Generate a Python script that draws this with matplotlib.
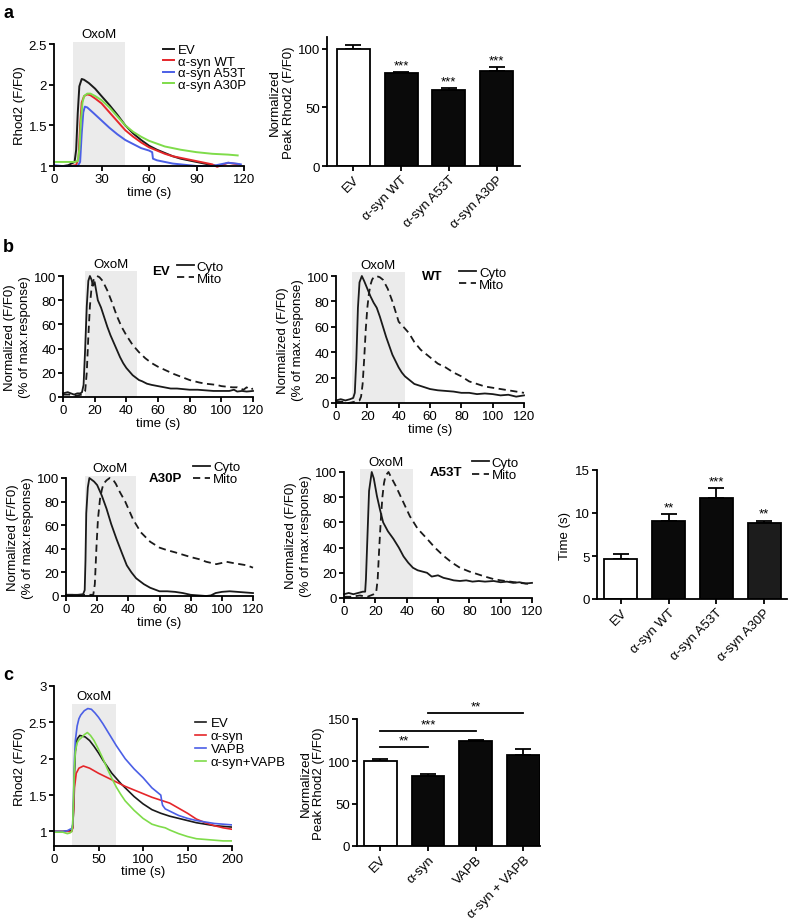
import matplotlib
matplotlib.use("Agg")
import matplotlib.pyplot as plt
import numpy as np

plt.rcParams['font.family'] = ['Liberation Sans', 'DejaVu Sans']
plt.rcParams['font.size'] = 9

# ---------------- data ----------------
# panel a, traces
a_ev_t = [0, 6, 9, 11, 13, 14, 15, 16, 17.5, 19, 22, 26, 30, 35, 40, 45, 50, 55, 60, 65, 70, 75, 80, 85, 90, 95, 100, 103]
a_ev_y = [1.0, 1.0, 1.01, 1.03, 1.05, 1.2, 1.65, 1.98, 2.07, 2.06, 2.02, 1.95, 1.86, 1.75, 1.63, 1.5, 1.4, 1.32, 1.25, 1.2, 1.16, 1.12, 1.09, 1.07, 1.05, 1.03, 1.01, 1.0]
a_wt_t = [0, 5, 10, 14, 15.5, 16.5, 17.5, 19, 21, 23, 26, 30, 35, 40, 45, 50, 55, 60, 65, 70, 75, 80, 85, 90, 95, 100, 103, 106, 110, 113, 117]
a_wt_y = [1.0, 1.0, 1.0, 1.01, 1.1, 1.5, 1.78, 1.86, 1.88, 1.87, 1.83, 1.77, 1.66, 1.55, 1.44, 1.36, 1.29, 1.23, 1.19, 1.15, 1.12, 1.1, 1.08, 1.06, 1.04, 1.02, 0.99, 1.01, 1.04, 1.03, 1.02]
a_a53t_t = [0, 5, 10, 15, 16.5, 17.5, 18.5, 19.5, 21, 25, 30, 35, 40, 45, 50, 55, 60, 62, 62.5, 65, 70, 75, 80, 85, 90, 95, 100, 105, 110, 115, 118]
a_a53t_y = [1.01, 1.0, 1.0, 1.0, 1.05, 1.4, 1.66, 1.73, 1.72, 1.65, 1.56, 1.47, 1.39, 1.32, 1.27, 1.22, 1.19, 1.17, 1.09, 1.07, 1.05, 1.03, 1.02, 1.01, 1.0, 1.0, 1.0, 1.02, 1.04, 1.03, 1.02]
a_a30p_t = [0, 5, 10, 13, 15, 16, 17, 18, 19, 21, 23, 26, 30, 35, 40, 45, 50, 55, 60, 70, 80, 90, 100, 110, 116]
a_a30p_y = [1.05, 1.05, 1.05, 1.05, 1.06, 1.2, 1.55, 1.78, 1.86, 1.89, 1.89, 1.86, 1.81, 1.72, 1.61, 1.5, 1.42, 1.36, 1.31, 1.24, 1.2, 1.17, 1.15, 1.14, 1.13]

# panel a, bars
bar_labels_a = ['EV', 'α-syn WT', 'α-syn A53T', 'α-syn A30P']
peak_a = [100, 79, 65, 81]
peak_a_err = [3, 1.5, 1.5, 3]
stars_a = ['', '***', '***', '***']

# panel b, normalized traces
ev_cyto_t = [0, 3, 5, 7, 9, 11, 12, 13, 14, 15, 16, 17, 18, 19, 20, 22, 24, 26, 28, 30, 32, 34, 36, 38, 40, 42, 44, 46, 48, 50, 53, 56, 60, 64, 68, 72, 76, 80, 85, 90, 95, 100, 105, 108, 110, 113, 116, 120]
ev_cyto_y = [3, 4, 3, 2, 3, 3, 4, 10, 40, 75, 96, 100, 97, 92, 95, 80, 74, 66, 58, 51, 45, 39, 33, 28, 24, 21, 18, 16, 14, 13, 11, 10, 9, 8, 7, 7, 6.5, 6, 6, 5.5, 5, 5, 5, 6, 4.5, 5, 4.5, 5]
ev_mito_t = [0, 4, 8, 12, 14, 15, 16, 17, 18, 19, 20, 21.5, 23, 25, 28, 31, 34, 37, 40, 44, 48, 52, 56, 60, 65, 70, 76, 80, 86, 90, 97, 100, 107, 110, 114, 116, 118, 120]
ev_mito_y = [2, 2, 1, 2, 5, 20, 50, 75, 90, 96, 98, 100, 99, 96, 88, 78, 67, 58, 51, 43, 37, 32, 28, 25, 22, 19, 16, 14, 12, 11, 10, 9, 8, 8, 6, 8, 6, 7]

wt_cyto_t = [0, 3, 6, 9, 11, 12, 13, 14, 15, 16.5, 18, 20, 22, 24, 26, 28, 30, 32, 34, 36, 38, 40, 42, 44, 47, 50, 55, 60, 65, 70, 75, 80, 85, 90, 95, 100, 105, 110, 115, 120]
wt_cyto_y = [2, 3, 2, 3, 4, 8, 35, 75, 95, 100, 96, 90, 84, 79, 75, 68, 60, 52, 45, 38, 33, 28, 24, 21, 18, 15, 13, 11, 10, 9.5, 9, 8, 8, 7, 7.5, 7, 6, 6.5, 5, 6]
wt_mito_t = [0, 4, 8, 12, 15, 16, 17, 18, 19, 20, 21, 22, 23, 24, 25.7, 28, 30, 33, 36, 38, 40, 43, 46.6, 50, 54, 60, 65, 70, 75, 80, 85, 90, 95, 100, 105, 110, 115, 120]
wt_mito_y = [1, 1, 0, 1, 2, 5, 15, 35, 58, 75, 86, 93, 97, 99, 100, 99, 97, 90, 80, 72, 64, 60, 55, 48, 42, 36, 31, 28, 24, 21, 17, 15, 13, 12, 11, 10, 9, 8]

a30p_cyto_t = [0, 4, 8, 11, 12, 12.5, 13, 14, 15, 16, 18, 20, 23, 26, 29, 32.5, 36, 39, 42, 45, 50, 54, 60, 65, 70, 75, 80, 85, 90, 93, 96, 100, 105, 110, 115, 120]
a30p_cyto_y = [1, 1, 1, 1.5, 5, 30, 70, 92, 100, 99, 97, 94, 85, 74, 61, 48, 36, 26, 20, 15, 10, 7, 4, 4, 3.5, 2.5, 1, 0.5, 0, 0.5, 2.5, 3.5, 4, 3.5, 3, 2.5]
a30p_mito_t = [0, 5, 10, 15, 17.5, 18.5, 19.6, 20.5, 21.8, 23, 24, 26, 28, 30, 32, 34.6, 38, 43, 48, 54, 60, 64.5, 70, 75, 80, 86, 90, 96.5, 100, 103, 107, 111.5, 116, 120]
a30p_mito_y = [1, 1, 1, 1, 1, 10, 43, 65, 82, 90, 95, 98, 100, 99, 95, 88, 80, 65, 54, 46, 41, 39, 37, 35, 33, 31, 29, 27, 28, 29, 28, 27, 26, 24]

a53t_cyto_t = [0, 3, 6, 9, 12, 13.5, 14, 15, 16, 17.7, 19, 21, 23, 25, 28, 31.5, 35, 38, 41, 44, 47, 50, 53, 56, 60, 63.5, 67, 70, 74, 78, 82, 86, 90, 95.5, 100, 104, 108, 112, 116, 120]
a53t_cyto_y = [3, 4, 3, 4, 5, 5, 15, 50, 85, 100, 95, 81, 70, 60, 53, 47, 40, 33, 28, 24, 22, 21, 20, 17, 18, 16, 15, 14, 13.5, 14, 13, 13.5, 13, 13.5, 12.5, 13, 12, 12.5, 11.5, 12]
a53t_mito_t = [0, 5, 10, 15, 19, 20.5, 21.5, 22.5, 23.5, 24.5, 25.5, 26.5, 28.4, 30, 33, 36, 42, 47, 53, 58, 63.5, 69, 74, 80, 85, 90, 95.5, 100, 106, 112, 120]
a53t_mito_y = [1, 1, 2, 1, 3, 4, 15, 40, 62, 80, 91, 97, 100, 96, 89, 81, 65, 55, 47, 40, 33.5, 28, 24, 21, 19, 17, 15, 14, 13, 12, 11]

# panel b, bars
bar_labels_b = ['EV', 'α-syn WT', 'α-syn A53T', 'α-syn A30P']
delay_b = [4.7, 9.1, 11.8, 8.8]
delay_b_err = [0.5, 0.8, 1.1, 0.3]
stars_b = ['', '**', '***', '**']

# panel c, traces
c_ev_t = [0, 10, 18, 20, 21, 22, 23, 24, 26, 29, 35, 40, 45, 50, 55, 60, 65, 70, 75, 80, 90, 100, 110, 120, 130, 140, 150, 160, 170, 180, 190, 200]
c_ev_y = [1.0, 1.0, 1.01, 1.02, 1.05, 1.3, 1.8, 2.1, 2.27, 2.32, 2.3, 2.25, 2.17, 2.08, 1.98, 1.89, 1.8, 1.73, 1.66, 1.6, 1.48, 1.38, 1.3, 1.25, 1.21, 1.18, 1.15, 1.12, 1.1, 1.08, 1.07, 1.06]
c_asyn_t = [0, 10, 18, 20, 21, 22, 23, 25, 28, 33, 40, 50, 60, 70, 80, 90, 100, 110, 120, 130, 140, 150, 160, 170, 180, 190, 200]
c_asyn_y = [1.0, 1.0, 1.0, 1.0, 1.05, 1.3, 1.6, 1.8, 1.87, 1.9, 1.87, 1.8, 1.74, 1.68, 1.62, 1.57, 1.52, 1.47, 1.43, 1.39, 1.32, 1.25, 1.17, 1.12, 1.08, 1.05, 1.03]
c_vapb_t = [0, 10, 15, 18, 20, 21, 22, 23, 24, 26, 28, 30, 34, 38, 42, 46, 50, 55, 60, 65, 70, 75, 80, 90, 100, 110, 118, 120, 121, 122, 125, 130, 140, 150, 160, 170, 180, 190, 200]
c_vapb_y = [1.0, 1.0, 1.01, 1.03, 1.04, 1.1, 1.5, 2.0, 2.25, 2.45, 2.55, 2.6, 2.66, 2.69, 2.68, 2.63, 2.57, 2.48, 2.38, 2.28, 2.18, 2.09, 2.0, 1.86, 1.74, 1.6, 1.52, 1.5, 1.42, 1.36, 1.31, 1.28, 1.22, 1.18, 1.15, 1.13, 1.11, 1.1, 1.09]
c_both_t = [0, 10, 15, 18, 20, 21, 22, 23, 24, 26, 28, 30, 34, 37.5, 41, 45, 50, 55, 60, 65, 70, 75, 80, 90, 100, 110, 118, 125, 130, 140, 150, 160, 170, 180, 190, 200]
c_both_y = [0.99, 0.99, 0.97, 0.98, 1.0, 1.1, 1.5, 1.9, 2.1, 2.22, 2.26, 2.28, 2.33, 2.36, 2.32, 2.25, 2.13, 2.0, 1.86, 1.73, 1.61, 1.51, 1.42, 1.29, 1.18, 1.1, 1.07, 1.05, 1.02, 0.97, 0.93, 0.9, 0.89, 0.88, 0.87, 0.87]

# panel c, bars
bar_labels_c = ['EV', 'α-syn', 'VAPB', 'α-syn + VAPB']
peak_c = [100, 83, 124, 108]
peak_c_err = [2.5, 2.5, 1, 7]
# comparisons: (bar i, bar j, height, label)
sig_c = [(0, 1, 117, '**'), (0, 2, 136, '***'), (1, 3, 157, '**')]

# ---------------- figure ----------------
W, H = 798, 920
fig = plt.figure(figsize=(W / 100, H / 100), dpi=100)

BLACK = '#1a1a1a'
RED = '#e5262a'
BLUE = '#4b5fe6'
GREEN = '#7fdc4a'
SHADE = '#ebebeb'
FS = 9.5


def axes_px(left, bottom, width, height):
    return fig.add_axes([left / W, 1 - bottom / H, width / W, height / H])


def style(ax):
    for s in ['top', 'right']:
        ax.spines[s].set_visible(False)
    for s in ['left', 'bottom']:
        ax.spines[s].set_linewidth(1.3)
    ax.tick_params(width=1.3, length=3.5, labelsize=FS, pad=1.5)


def fig_text(x, y, s, **kw):
    fig.text(x / W, 1 - y / H, s, **kw)


def oxom(ax, t0, t1, ytop_frac):
    ax.axvspan(t0, t1, ymin=0, ymax=ytop_frac, color=SHADE, lw=0, zorder=0, clip_on=False)


def trace_panel(ax, cyto_t, cyto_y, mito_t, mito_y, t0, t1, top, name, name_xy, leg_xy):
    style(ax)
    oxom(ax, t0, t1, top)
    ax.plot(cyto_t, cyto_y, color=BLACK, lw=1.3, label='Cyto', clip_on=False)
    ax.plot(mito_t, mito_y, color=BLACK, lw=1.3, ls=(0, (4, 2.5)), label='Mito', clip_on=False)
    ax.set_xlim(0, 120)
    ax.set_ylim(0, 100)
    ax.set_xticks([0, 20, 40, 60, 80, 100, 120])
    ax.set_yticks([0, 20, 40, 60, 80, 100])
    ax.set_ylabel('Normalized (F/F0)\n(% of max.response)', fontsize=FS, labelpad=2, linespacing=1.3)
    ax.text((t0 + t1) / 2, 100 * top + 1, 'OxoM', ha='center', va='bottom', fontsize=FS)
    ax.text(name_xy[0], name_xy[1], name, transform=ax.transAxes, ha='right', va='center',
            fontsize=FS, fontweight='bold')
    ax.legend(loc='upper left', bbox_to_anchor=leg_xy, frameon=False, fontsize=FS,
              handlelength=1.3, handletextpad=0.2, labelspacing=0.0, borderpad=0, borderaxespad=0)


def bar_panel(ax, labels, vals, errs, color='#0a0a0a'):
    style(ax)
    x = np.arange(len(vals))
    colors = ['white'] + [color] * (len(vals) - 1)
    ax.bar(x, vals, width=0.69, color=colors, edgecolor='black', linewidth=1.3, zorder=2)
    ax.errorbar(x, vals, yerr=[np.zeros(len(vals)), errs], fmt='none', ecolor='black',
                elinewidth=1.3, capsize=6, capthick=1.3, zorder=1)
    ax.set_xticks(x)
    ax.set_xticklabels(labels, rotation=45, ha='right', rotation_mode='anchor', fontsize=FS)
    return x


# ---- panel a left ----
ax = axes_px(54, 167, 190, 122)
style(ax)
oxom(ax, 12, 45, 1.02)
ax.plot(a_ev_t, a_ev_y, color=BLACK, lw=1.4, label='EV', clip_on=False)
ax.plot(a_wt_t, a_wt_y, color=RED, lw=1.4, label='α-syn WT', clip_on=False)
ax.plot(a_a53t_t, a_a53t_y, color=BLUE, lw=1.4, label='α-syn A53T', clip_on=False)
ax.plot(a_a30p_t, a_a30p_y, color=GREEN, lw=1.4, label='α-syn A30P', clip_on=False)
ax.set_xlim(0, 120)
ax.set_ylim(1, 2.5)
ax.set_xticks([0, 30, 60, 90, 120])
ax.set_yticks([1, 1.5, 2, 2.5])
ax.set_yticklabels(['1', '1.5', '2', '2.5'])
ax.set_xlabel('time (s)', fontsize=FS, labelpad=1)
ax.set_ylabel('Rhod2 (F/F0)', fontsize=FS, labelpad=2)
ax.text(28.5, 2.55, 'OxoM', ha='center', va='bottom', fontsize=FS)
ax.legend(loc='upper left', bbox_to_anchor=(0.575, 1.0), frameon=False, fontsize=FS,
          handlelength=0.8, handletextpad=0.3, labelspacing=-0.05, borderpad=0, borderaxespad=0)

# ---- panel a right ----
ax = axes_px(327, 167, 193, 129)
x = bar_panel(ax, bar_labels_a, peak_a, peak_a_err)
ax.set_xlim(-0.55, 3.49)
ax.set_ylim(0, 110)
ax.set_yticks([0, 50, 100])
ax.set_ylabel('Normalized\nPeak Rhod2 (F/F0)', fontsize=FS, labelpad=2, linespacing=1.2)
for xi, v, e, s in zip(x, peak_a, peak_a_err, stars_a):
    ax.text(xi, v + e + 0.5, s, ha='center', va='bottom', fontsize=9.5)

# ---- panel b traces ----
ax = axes_px(63, 398, 190, 121)
trace_panel(ax, ev_cyto_t, ev_cyto_y, ev_mito_t, ev_mito_y, 14, 47, 1.04,
            'EV', (0.563, 1.04), (0.6, 1.13))
ax.set_xlabel('time (s)', fontsize=FS, labelpad=1)

ax = axes_px(336, 404, 188, 127)
trace_panel(ax, wt_cyto_t, wt_cyto_y, wt_mito_t, wt_mito_y, 10, 44, 1.03,
            'WT', (0.564, 1.0), (0.655, 1.076))
ax.set_xlabel('time (s)', fontsize=FS, labelpad=1)

ax = axes_px(66, 597, 187, 118)
trace_panel(ax, a30p_cyto_t, a30p_cyto_y, a30p_mito_t, a30p_mito_y, 12, 45, 1.02,
            'A30P', (0.62, 1.0), (0.68, 1.145))
ax.set_xlabel('time (s)', fontsize=FS, labelpad=1)

ax = axes_px(344, 599, 188, 126)
trace_panel(ax, a53t_cyto_t, a53t_cyto_y, a53t_mito_t, a53t_mito_y, 10, 44, 1.02,
            'A53T', (0.628, 1.0), (0.68, 1.12))

# ---- panel b bars ----
ax = axes_px(597, 600, 190, 129)
x = bar_panel(ax, bar_labels_b, delay_b, delay_b_err)
ax.patches[-1].set_facecolor('#1c1c1c')
ax.set_xlim(-0.5, 3.48)
ax.set_ylim(0, 15)
ax.set_yticks([0, 5, 10, 15])
ax.set_ylabel('Time (s)', fontsize=FS, labelpad=3)
for xi, v, e, s in zip(x, delay_b, delay_b_err, stars_b):
    ax.text(xi, v + e + 0.1, s, ha='center', va='bottom', fontsize=9.5)

# ---- panel c left ----
ax = axes_px(54, 847, 178, 160)
style(ax)
ax.axvspan(20, 70, ymin=0, ymax=(2.75 - 0.8) / 2.2, color=SHADE, lw=0, zorder=0)
ax.plot(c_ev_t, c_ev_y, color=BLACK, lw=1.2, label='EV')
ax.plot(c_asyn_t, c_asyn_y, color=RED, lw=1.2, label='α-syn')
ax.plot(c_vapb_t, c_vapb_y, color=BLUE, lw=1.2, label='VAPB')
ax.plot(c_both_t, c_both_y, color=GREEN, lw=1.2, label='α-syn+VAPB')
ax.set_xlim(0, 200)
ax.set_ylim(0.8, 3)
ax.set_xticks([0, 50, 100, 150, 200])
ax.set_yticks([1, 1.5, 2, 2.5, 3])
ax.set_yticklabels(['1', '1.5', '2', '2.5', '3'])
ax.set_xlabel('time (s)', fontsize=FS, labelpad=0)
ax.set_ylabel('Rhod2 (F/F0)', fontsize=FS, labelpad=2)
ax.text(45, 2.78, 'OxoM', ha='center', va='bottom', fontsize=FS)
ax.legend(loc='upper left', bbox_to_anchor=(0.79, 0.805), frameon=False, fontsize=FS,
          handlelength=0.9, handletextpad=0.3, labelspacing=0.05, borderpad=0, borderaxespad=0)

# ---- panel c right ----
ax = axes_px(357, 847, 183, 127)
x = bar_panel(ax, bar_labels_c, peak_c, peak_c_err)
ax.set_xlim(-0.49, 3.35)
ax.set_ylim(0, 150)
ax.set_yticks([0, 50, 100, 150])
ax.set_ylabel('Normalized\nPeak Rhod2 (F/F0)', fontsize=FS, labelpad=2, linespacing=1.15)
for i, j, h, s in sig_c:
    ax.plot([x[i], x[j]], [h, h], color='black', lw=1.3, clip_on=False)
    ax.text((x[i] + x[j]) / 2, h + 1, s, ha='center', va='bottom', fontsize=9.5)

# panel letters
fig_text(3, 13, 'a', fontsize=13, fontweight='bold', va='center')
fig_text(3, 247, 'b', fontsize=13, fontweight='bold', va='center')
fig_text(3, 675, 'c', fontsize=13, fontweight='bold', va='center')

fig.savefig('out.png', dpi=100)
